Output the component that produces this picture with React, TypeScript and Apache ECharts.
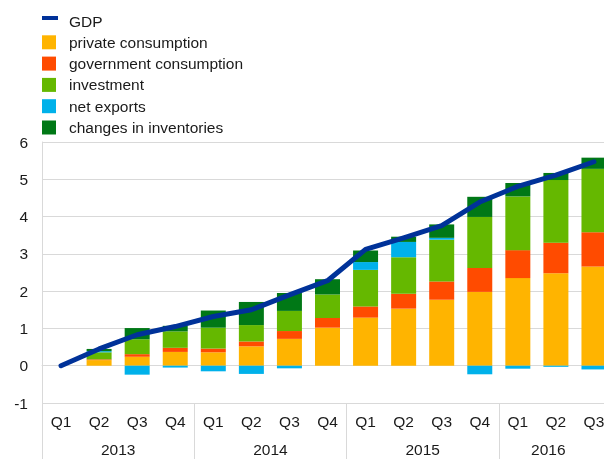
import React, { useEffect, useRef } from "react";
import * as echarts from "echarts";

const quarters = ["Q1", "Q2", "Q3", "Q4", "Q1", "Q2", "Q3", "Q4", "Q1", "Q2", "Q3", "Q4", "Q1", "Q2", "Q3"];
const years = ["2013", "2014", "2015", "2016"];
const yearLabelPos = [2, 6, 10, 13.3];
const yearBoundaries = [0, 4, 8, 12];

const privateConsumption = [0, 0.15, 0.24, 0.37, 0.36, 0.52, 0.72, 1.02, 1.29, 1.53, 1.77, 1.98, 2.35, 2.48, 2.66];
const governmentConsumption = [0, 0.02, 0.07, 0.11, 0.1, 0.13, 0.21, 0.26, 0.3, 0.4, 0.49, 0.64, 0.75, 0.82, 0.92];
const investment = [0, 0.19, 0.4, 0.44, 0.56, 0.44, 0.54, 0.63, 0.98, 0.98, 1.12, 1.37, 1.44, 1.68, 1.7];
const netExports = [0, 0.03, -0.24, -0.05, -0.15, -0.22, -0.07, 0, 0.21, 0.41, 0.05, -0.23, -0.08, -0.03, -0.1];
const inventories = [0, 0.06, 0.3, 0.15, 0.46, 0.62, 0.48, 0.41, 0.31, 0.14, 0.36, 0.54, 0.36, 0.19, 0.3];
const gdp = [0, 0.45, 0.83, 1.05, 1.32, 1.5, 1.9, 2.28, 3.12, 3.43, 3.76, 4.39, 4.81, 5.11, 5.47];

const FONT = "'Liberation Sans', Arial, sans-serif";
const TXT = "#1a1a1a";
const GRID = "#d9d9d9";
const FS = 15.5;

const squareIcon = "path://M0,0L14,0L14,14L0,14Z M16,14L16,14";
const lineIcon = "path://M0,0L0,0 M0,2L16,2L16,6L0,6Z M16,14L16,14";

export default function App() {
  const ref = useRef<HTMLDivElement>(null);
  useEffect(() => {
    if (!ref.current) return;
    const chart = echarts.init(ref.current, undefined, { renderer: "svg" });
    const bar = (name: string, data: number[], color: string) => ({
      name,
      type: "bar",
      stack: "total",
      data,
      barWidth: 25,
      itemStyle: { color },
      xAxisIndex: 0,
      yAxisIndex: 0,
    });
    chart.setOption({
      animation: false,
      textStyle: { fontFamily: FONT },
      legend: {
        orient: "vertical",
        left: 42,
        top: 13,
        padding: 0,
        itemWidth: 16,
        itemHeight: 14,
        itemGap: 5.3,
        selectedMode: false,
        itemStyle: { borderWidth: 0 },
        textStyle: { fontFamily: FONT, fontSize: FS, lineHeight: 14, color: TXT, padding: [0, 0, 0, 6] },
        data: [
          { name: "GDP", icon: lineIcon },
          { name: "private consumption", icon: squareIcon },
          { name: "government consumption", icon: squareIcon },
          { name: "investment", icon: squareIcon },
          { name: "net exports", icon: squareIcon },
          { name: "changes in inventories", icon: squareIcon },
        ],
      },
      grid: { left: 42, right: 0, top: 142, bottom: 56, containLabel: false },
      xAxis: [
        {
          type: "category",
          data: quarters,
          position: "bottom",
          axisLine: { show: true, lineStyle: { color: GRID, width: 1 } },
          axisTick: { show: false },
          axisLabel: { color: TXT, fontSize: FS, fontFamily: FONT, margin: 10, interval: 0 },
          splitLine: { show: false },
        },
        {
          type: "value",
          min: 0,
          max: 15,
          position: "bottom",
          offset: 0,
          axisLine: { show: false },
          splitLine: { show: false },
          axisTick: {
            show: true,
            length: 56,
            customValues: yearBoundaries,
            lineStyle: { color: GRID, width: 1 },
          },
          axisLabel: {
            show: true,
            margin: 38,
            color: TXT,
            fontSize: FS,
            fontFamily: FONT,
            customValues: yearLabelPos,
            formatter: (v: number) => years[yearLabelPos.indexOf(v)] ?? "",
          },
        },
      ],
      yAxis: {
        type: "value",
        min: -1,
        max: 6,
        interval: 1,
        axisLine: { show: true, lineStyle: { color: GRID, width: 1 } },
        axisTick: { show: false },
        axisLabel: { color: TXT, fontSize: FS, fontFamily: FONT, margin: 14 },
        splitLine: { show: true, lineStyle: { color: GRID, width: 1 } },
      },
      series: [
        bar("private consumption", privateConsumption, "#FFB400"),
        bar("government consumption", governmentConsumption, "#FF4B00"),
        bar("investment", investment, "#65B800"),
        bar("net exports", netExports, "#00B1EA"),
        bar("changes in inventories", inventories, "#007816"),
        {
          name: "GDP",
          type: "line",
          data: gdp,
          xAxisIndex: 0,
          yAxisIndex: 0,
          showSymbol: false,
          symbol: "none",
          itemStyle: { color: "#003299" },
          lineStyle: { color: "#003299", width: 5, cap: "round", join: "round" },
          z: 10,
        },
      ],
    });
    return () => chart.dispose();
  }, []);
  return <div ref={ref} style={{ position: "fixed", left: 0, top: 0, width: 613, height: 459 }} />;
}
